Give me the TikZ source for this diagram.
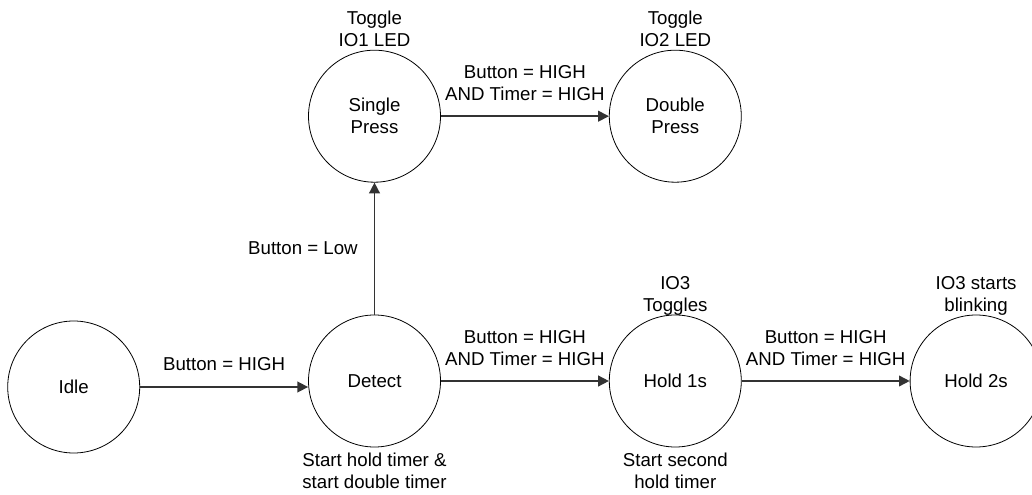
\documentclass[tikz,border=0pt]{standalone}
\usepackage{fontspec}
\setmainfont{Liberation Sans}
\usetikzlibrary{arrows.meta,positioning}
\definecolor{wire}{HTML}{333333}

\begin{document}
\begin{tikzpicture}[
  x=0.75pt, y=-0.75pt,
  font=\fontsize{14}{16.5}\selectfont,
  node distance=99pt and 126pt,
  state/.style={draw, circle, line width=0.6pt, minimum size=99pt, inner sep=0pt, align=center},
  note/.style={align=center, inner sep=2pt, text depth=0pt},
  lbl/.style={align=center, inner sep=0pt, text=black},
  arr/.style={-{Triangle[length=8pt,width=8pt]}, wire, line width=1.2pt}
]
\useasboundingbox (0,0) rectangle (1032,495);

% states
\node[state, label={[note, yshift=-2pt]below:Start hold timer \&\\start double timer}] (detect) at (374.5,381) {Detect};
\node[state, left=of detect, yshift=-4.5pt] (idle) {Idle};
\node[state, right=of detect, label={[note]above:IO3\\Toggles}, label={[note, yshift=-2pt]below:Start second\\hold timer}] (hold1) {Hold 1s};
\node[state, right=of hold1, label={[note]above:IO3 starts\\blinking}] (hold2) {Hold 2s};
\node[state, above=of detect, label={[note]above:Toggle\\IO1 LED}] (single) {Single\\Press};
\node[state, right=of single, label={[note]above:Toggle\\IO2 LED}] (double) {Double\\Press};

% transitions
\draw[arr] (idle.east) -- (idle.east -| detect.west) node[lbl, midway, above=12pt] {Button = HIGH};
\draw[arr] (detect) -- (single) node[lbl, midway, left=12pt] {Button = Low};
\draw[arr] (detect) -- (hold1) node[lbl, midway, above=11pt] {Button = HIGH\\AND Timer = HIGH};
\draw[arr] (hold1) -- (hold2) node[lbl, midway, above=11pt] {Button = HIGH\\AND Timer = HIGH};
\draw[arr] (single) -- (double) node[lbl, midway, above=11pt] {Button = HIGH\\AND Timer = HIGH};
\end{tikzpicture}
\end{document}
